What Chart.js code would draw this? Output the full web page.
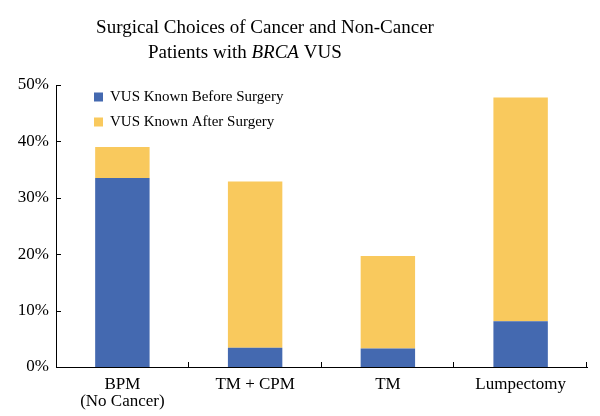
<!DOCTYPE html>
<html><head><meta charset="utf-8">
<script src="https://cdn.jsdelivr.net/npm/chart.js@4"></script>
<style>html,body{margin:0;padding:0;background:#fff}#wrap{width:600px;height:416px;position:relative}</style>
</head><body><div id="wrap"><canvas id="c" width="600" height="416"></canvas></div>
<script>
const categories = [["BPM","(No Cancer)"], "TM + CPM", "TM", "Lumpectomy"];
const seriesNames = ["VUS Known Before Surgery", "VUS Known After Surgery"];
const knownBefore = [33.5, 3.4, 3.3, 8.1];
const knownAfter = [5.5, 29.5, 16.4, 39.7];
const yTicks = [0, 10, 20, 30, 40, 50];
const titleLine1 = "Surgical Choices of Cancer and Non-Cancer";
const titleLine2 = ["Patients with ", "BRCA", " VUS"];
const colors = ["#4469b0", "#f9c95d"];
const serif = "'Liberation Serif','Times New Roman',serif";

const decorPlugin = {
  id: 'decor',
  afterDraw(chart) {
    const ctx = chart.ctx, ca = chart.chartArea;
    const xs = chart.scales.x, ys = chart.scales.y;
    ctx.save();
    ctx.strokeStyle = '#000'; ctx.lineWidth = 1;
    yTicks.forEach(v => {
      const y = Math.round(ys.getPixelForValue(v)) + 0.5;
      ctx.beginPath(); ctx.moveTo(ca.left, y); ctx.lineTo(ca.left + 5, y); ctx.stroke();
    });
    const n = categories.length;
    for (let i = 1; i <= n; i++) {
      const x = Math.round(i < n ? (xs.getPixelForValue(i - 1) + xs.getPixelForValue(i)) / 2 : ca.right) - 0.5;
      ctx.beginPath(); ctx.moveTo(x, ca.bottom); ctx.lineTo(x, ca.bottom - 5); ctx.stroke();
    }
    ctx.fillStyle = '#000';
    ctx.textBaseline = 'alphabetic';
    ctx.font = "19px " + serif;
    ctx.textAlign = 'center';
    ctx.fillText(titleLine1, 265, 33);
    ctx.textAlign = 'left';
    let x = 148;
    titleLine2.forEach((t, i) => {
      ctx.font = (i === 1 ? "italic " : "") + "19px " + serif;
      ctx.fillText(t, x, 58);
      x += ctx.measureText(t).width;
    });
    ctx.font = "15px " + serif;
    ctx.textBaseline = 'middle';
    chart.data.datasets.forEach((ds, i) => {
      const ly = 97 + i * 25;
      ctx.fillStyle = ds.backgroundColor;
      ctx.fillRect(94, ly - 4.5, 9, 9);
      ctx.fillStyle = '#000';
      ctx.fillText(ds.label, 110, ly);
    });
    ctx.restore();
  }
};

new Chart(document.getElementById('c'), {
  type: 'bar',
  data: {
    labels: categories,
    datasets: [
      { label: seriesNames[0], data: knownBefore, backgroundColor: colors[0], borderWidth: 0 },
      { label: seriesNames[1], data: knownAfter, backgroundColor: colors[1], borderWidth: 0 }
    ]
  },
  options: {
    responsive: false,
    animation: false,
    layout: { padding: { top: 85, right: 13, left: 0, bottom: 0 } },
    datasets: { bar: { barPercentage: 0.41, categoryPercentage: 1 } },
    plugins: { legend: { display: false }, title: { display: false }, tooltip: { enabled: false } },
    scales: {
      x: {
        stacked: true,
        grid: { display: false, tickLength: 0 },
        border: { display: true, color: '#000', width: 1 },
        ticks: { color: '#000', font: { family: serif, size: 17, lineHeight: 1.0 }, padding: 9, maxRotation: 0 },
        afterFit: s => { s.height = 49; }
      },
      y: {
        stacked: true, min: 0, max: 50,
        grid: { display: false, tickLength: 0 },
        border: { display: true, color: '#000', width: 1 },
        afterBuildTicks: s => { s.ticks = yTicks.map(v => ({ value: v })); },
        ticks: { color: '#000', font: { family: serif, size: 17 }, padding: 7, callback: v => v + '%' },
        afterFit: s => { s.width = 56; }
      }
    }
  },
  plugins: [decorPlugin]
});
</script></body></html>
